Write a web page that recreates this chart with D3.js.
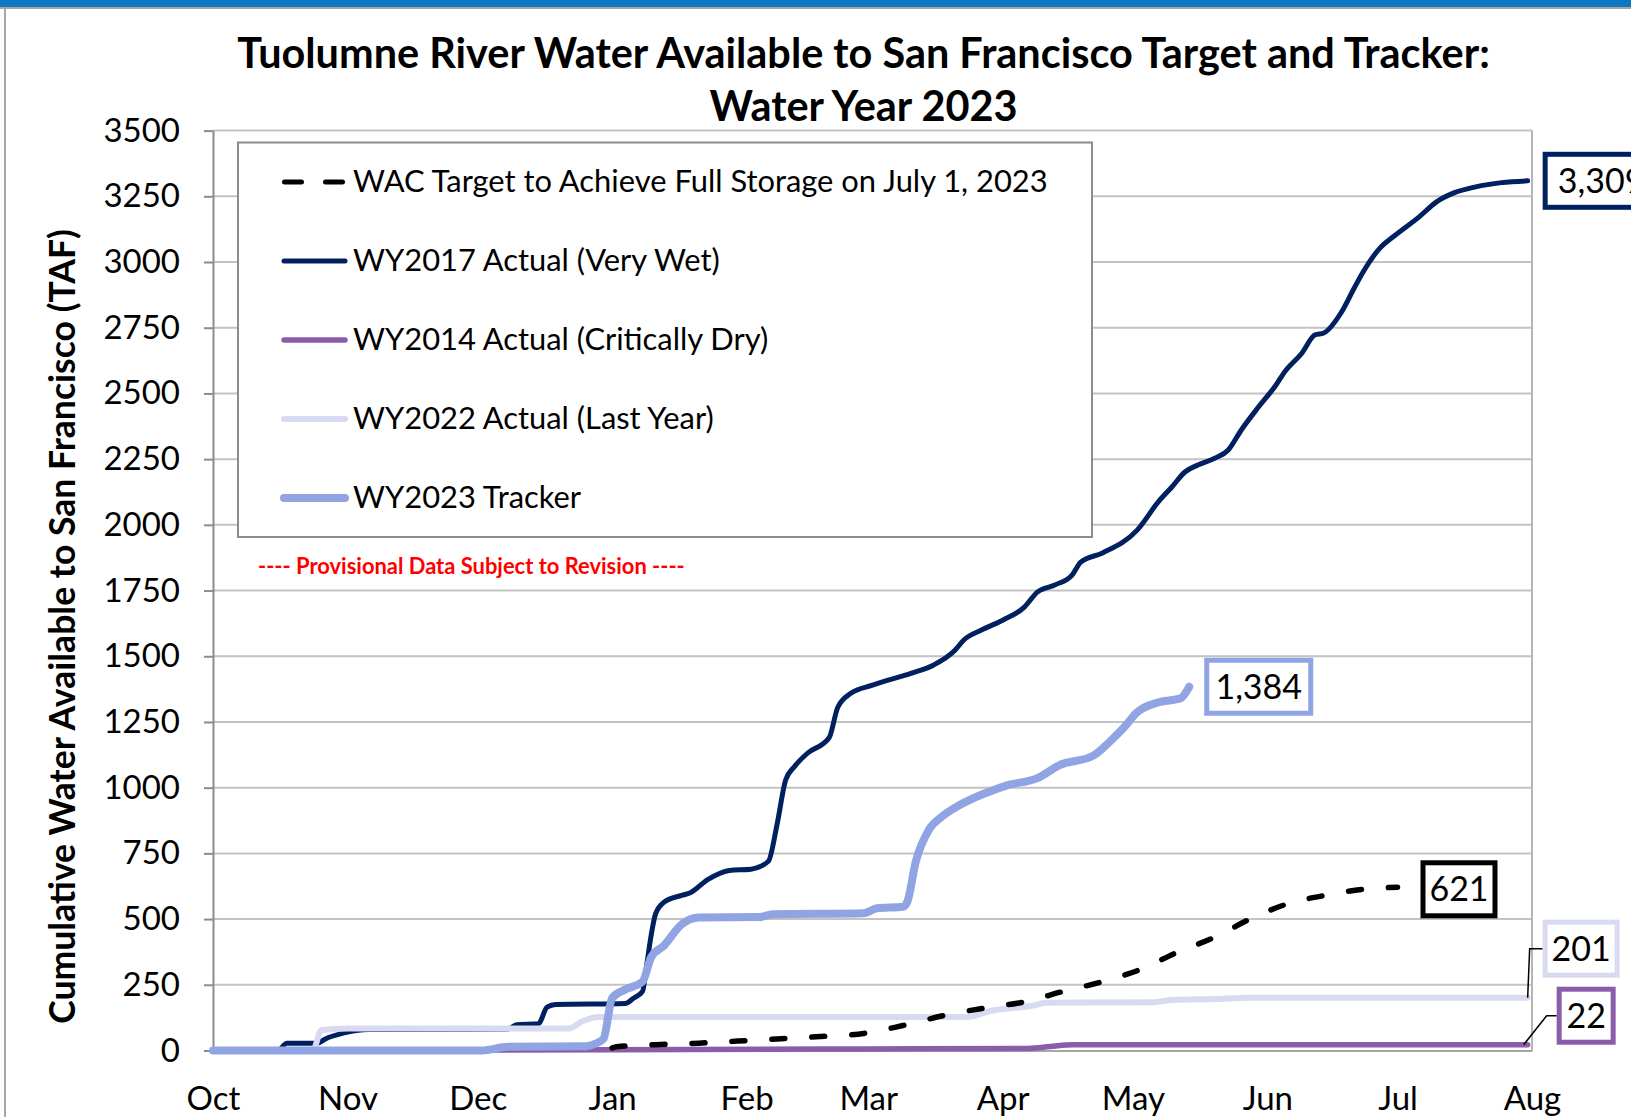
<!DOCTYPE html>
<html>
<head>
<meta charset="utf-8">
<script src="https://cdn.jsdelivr.net/npm/d3@7/dist/d3.min.js"></script>
<style>
  html, body { margin: 0; padding: 0; background: #fff; }
  svg { display: block; font-family: Lato, "Open Sans", sans-serif; }
</style>
</head>
<body>
<svg id="chart" width="1631" height="1117"></svg>
<script>
// axis labels
const monthLabels = ["Oct", "Nov", "Dec", "Jan", "Feb", "Mar", "Apr", "May", "Jun", "Jul", "Aug"];
const monthStarts = ["2022-10-01", "2022-11-01", "2022-12-01", "2023-01-01", "2023-02-01", "2023-03-01",
                     "2023-04-01", "2023-05-01", "2023-06-01", "2023-07-01", "2023-08-01"];
const yTicks = [0, 250, 500, 750, 1000, 1250, 1500, 1750, 2000, 2250, 2500, 2750, 3000, 3250, 3500];

// WAC target (dashed)
const targetDates = ["2023-01-01", "2023-01-02", "2023-01-11", "2023-01-21", "2023-01-30", "2023-02-09", "2023-02-18",
                     "2023-02-28", "2023-03-09", "2023-03-19", "2023-03-28", "2023-04-06", "2023-04-15", "2023-04-24",
                     "2023-05-03", "2023-05-11", "2023-05-20", "2023-05-28", "2023-06-06", "2023-06-15", "2023-06-24",
                     "2023-07-01"];
const targetValues = [10, 14, 22, 28, 36, 45, 53, 65, 95, 135, 162, 185, 225, 262, 310, 372, 432, 500, 560, 592, 615, 621];

// WY2017 actual (very wet)
const wy2017Dates = ["2022-10-01", "2022-10-16", "2022-10-18", "2022-10-25", "2022-10-27", "2022-10-31", "2022-11-03",
                     "2022-11-06", "2022-12-08", "2022-12-10", "2022-12-15", "2022-12-17", "2022-12-19", "2023-01-04",
                     "2023-01-06", "2023-01-08", "2023-01-09", "2023-01-10", "2023-01-11", "2023-01-13", "2023-01-17",
                     "2023-01-19", "2023-01-23", "2023-01-28", "2023-02-02", "2023-02-06", "2023-02-08", "2023-02-10",
                     "2023-02-12", "2023-02-15", "2023-02-20", "2023-02-22", "2023-02-25", "2023-03-02", "2023-03-11",
                     "2023-03-16", "2023-03-21", "2023-03-23", "2023-03-27", "2023-04-01", "2023-04-06", "2023-04-09",
                     "2023-04-13", "2023-04-17", "2023-04-19", "2023-04-24", "2023-05-02", "2023-05-07", "2023-05-10",
                     "2023-05-13", "2023-05-16", "2023-05-20", "2023-05-23", "2023-05-26", "2023-05-30", "2023-06-03",
                     "2023-06-05", "2023-06-09", "2023-06-12", "2023-06-14", "2023-06-18", "2023-06-21", "2023-06-23",
                     "2023-06-27", "2023-06-30", "2023-07-06", "2023-07-10", "2023-07-14", "2023-07-19", "2023-07-25",
                     "2023-07-31"];
const wy2017Values = [0, 0, 28, 28, 45, 66, 76, 80, 82, 98, 102, 165, 175, 179, 200, 225, 330, 440, 520, 565, 590,
                      600, 650, 685, 690, 720, 860, 1030, 1080, 1131, 1190, 1306, 1359, 1390, 1436, 1466, 1523, 1561,
                      1599, 1637, 1687, 1744, 1771, 1809, 1858, 1893, 1980, 2090, 2144, 2201, 2228, 2254, 2285, 2361,
                      2449, 2532, 2582, 2654, 2723, 2730, 2807, 2900, 2960, 3054, 3096, 3172, 3229, 3263, 3286, 3302,
                      3309];

// WY2014 actual (critically dry)
const wy2014Dates = ["2022-10-01", "2023-01-01", "2023-03-01", "2023-04-07", "2023-04-12", "2023-04-17", "2023-07-31"];
const wy2014Values = [0, 3, 6, 8, 15, 22, 22];

// WY2022 actual (last year)
const wy2022Dates = ["2022-10-01", "2022-10-24", "2022-10-26", "2022-11-01", "2022-12-22", "2022-12-25", "2022-12-29",
                     "2023-03-24", "2023-03-29", "2023-04-08", "2023-04-11", "2023-05-06", "2023-05-10", "2023-05-20",
                     "2023-05-28", "2023-07-31"];
const wy2022Values = [0, 0, 78, 84, 84, 110, 127, 127, 150, 171, 182, 184, 192, 196, 201, 201];

// WY2023 tracker
const wy2023Dates = ["2022-10-01", "2022-12-02", "2022-12-08", "2022-12-26", "2022-12-28", "2022-12-30", "2023-01-01",
                     "2023-01-04", "2023-01-08", "2023-01-10", "2023-01-13", "2023-01-17", "2023-01-21", "2023-02-04",
                     "2023-02-07", "2023-02-28", "2023-03-03", "2023-03-09", "2023-03-10", "2023-03-12", "2023-03-15",
                     "2023-03-18", "2023-03-22", "2023-03-28", "2023-04-02", "2023-04-09", "2023-04-14", "2023-04-22",
                     "2023-04-26", "2023-04-29", "2023-05-02", "2023-05-07", "2023-05-12", "2023-05-14"];
const wy2023Values = [0, 0, 14, 16, 25, 45, 200, 232, 262, 355, 400, 480, 506, 508, 518, 522, 541, 547, 565, 720,
                      840, 890, 933, 979, 1009, 1036, 1085, 1123, 1180, 1230, 1287, 1325, 1340, 1384];

const legendNames = ["WAC Target to Achieve Full Storage on July 1, 2023", "WY2017 Actual (Very Wet)",
                     "WY2014 Actual (Critically Dry)", "WY2022 Actual (Last Year)", "WY2023 Tracker"];

let parse = d3.timeParse("%Y-%m-%d");
let svg = d3.select("#chart");
let width = 1631, height = 1117;

// frame
svg.append("rect").attr("x", 0).attr("y", 0).attr("width", width).attr("height", 7).attr("fill", "#0b79c1");
svg.append("line").attr("x1", 0).attr("x2", width).attr("y1", 8).attr("y2", 8)
    .attr("stroke", "#a6a6a6").attr("stroke-width", 2);
svg.append("line").attr("x1", 5).attr("x2", 5).attr("y1", 8).attr("y2", height)
    .attr("stroke", "#a6a6a6").attr("stroke-width", 2);

// plot bounds
let plot = {left: 213, right: 1532, top: 130.6, bottom: 1050.5};

let xScale = d3.scaleTime()
    .domain([parse("2022-10-01"), parse("2023-08-01")])
    .range([plot.left, plot.right]);
let yScale = d3.scaleLinear()
    .domain([0, 3500])
    .range([plot.bottom, plot.top]);

//fit a text to a measured width
function fitText(sel, w) {
    let len = sel.node().getComputedTextLength();
    let fs = parseFloat(sel.attr("font-size"));
    sel.attr("font-size", fs * w / len);
    return fs * w / len;
}

//gridlines
svg.append("g").selectAll("line")
    .data(yTicks.filter(d => d > 0))
    .join("line")
    .attr("x1", plot.left).attr("x2", plot.right)
    .attr("y1", d => yScale(d)).attr("y2", d => yScale(d))
    .attr("stroke", "#c3c3c3").attr("stroke-width", 2);
svg.append("line")
    .attr("x1", plot.right).attr("x2", plot.right)
    .attr("y1", plot.top).attr("y2", plot.bottom)
    .attr("stroke", "#b5b5b5").attr("stroke-width", 2);

//y axis
let yAxis = svg.append("g")
    .attr("transform", "translate(" + plot.left + ",0)")
    .call(d3.axisLeft(yScale).tickValues(yTicks).tickFormat(d3.format("d"))
        .tickSize(9).tickPadding(24).tickSizeOuter(0));
yAxis.select(".domain").attr("stroke", "#8c8c8c").attr("stroke-width", 2);
yAxis.selectAll(".tick line").attr("stroke", "#8c8c8c").attr("stroke-width", 2);
yAxis.selectAll(".tick text")
    .attr("font-size", 33).attr("font-family", "Lato").attr("fill", "#000");

//x axis
let xAxis = svg.append("g")
    .attr("transform", "translate(0," + plot.bottom + ")")
    .call(d3.axisBottom(xScale)
        .tickValues(monthStarts.map(parse))
        .tickFormat((d, i) => monthLabels[i])
        .tickSize(0).tickPadding(36).tickSizeOuter(0));
xAxis.select(".domain").attr("stroke", "#a6a6a6").attr("stroke-width", 2);
xAxis.selectAll(".tick text")
    .attr("font-size", 33).attr("font-family", "Lato").attr("fill", "#000");

//legend box
svg.append("rect")
    .attr("x", 238).attr("y", 142.5).attr("width", 854).attr("height", 394.5)
    .attr("fill", "#fff").attr("stroke", "#8c8c8c").attr("stroke-width", 2);

//series
let series = [
    {dates: wy2014Dates, values: wy2014Values, color: "#8b5ca9", w: 5.5, legend: 2},
    {dates: wy2017Dates, values: wy2017Values, color: "#002060", w: 5, legend: 1},
    {dates: wy2022Dates, values: wy2022Values, color: "#d8daf1", w: 6, legend: 3},
    {dates: wy2023Dates, values: wy2023Values, color: "#90a4e4", w: 8, legend: 4},
    {dates: targetDates, values: targetValues, color: "#000", w: 5.5, dash: "13 27", legend: 0}
];

let line = d3.line()
    .x(d => xScale(d.date))
    .y(d => yScale(d.value))
    .curve(d3.curveMonotoneX);

series.forEach(s => {
    let items = s.dates.map((d, i) => ({date: parse(d), value: s.values[i]}));
    s.items = items;
    svg.append("path")
        .datum(items)
        .attr("fill", "none")
        .attr("stroke", s.color)
        .attr("stroke-width", s.w)
        .attr("stroke-linejoin", "round")
        .attr("stroke-linecap", "round")
        .attr("stroke-dasharray", s.dash || null)
        .attr("d", line);
});

//legend entries
let legendY = [182, 261, 340, 419, 498];
let legendFont = 30;
series.slice().sort((a, b) => a.legend - b.legend).forEach((s, i) => {
    let ly = legendY[i];
    if (s.dash) {
        svg.append("line")
            .attr("x1", 284.5).attr("x2", 342.5).attr("y1", ly).attr("y2", ly)
            .attr("stroke", s.color).attr("stroke-width", 5)
            .attr("stroke-linecap", "round").attr("stroke-dasharray", "17 24");
    } else {
        svg.append("line")
            .attr("x1", 284).attr("x2", 345).attr("y1", ly).attr("y2", ly)
            .attr("stroke", s.color).attr("stroke-width", s.w).attr("stroke-linecap", "round");
    }
    let t = svg.append("text")
        .attr("x", 353).attr("y", ly + 10)
        .attr("font-size", legendFont)
        .attr("fill", "#000")
        .text(legendNames[i]);
    if (i === 0) legendFont = fitText(t, 695);
});

//provisional note
let note = svg.append("text")
    .attr("x", 258).attr("y", 574)
    .attr("font-size", 20).attr("font-weight", "bold").attr("fill", "#ff0000")
    .text("---- Provisional  Data  Subject to Revision ----");
fitText(note, 427);

//titles
let t1 = svg.append("text")
    .attr("x", 863.5).attr("y", 68)
    .attr("text-anchor", "middle").attr("font-size", 36).attr("font-weight", "bold")
    .text("Tuolumne  River Water Available to San Francisco Target and Tracker:");
let titleSize = fitText(t1, 1253);
svg.append("text")
    .attr("x", 863.5).attr("y", 121)
    .attr("text-anchor", "middle").attr("font-size", titleSize).attr("font-weight", "bold")
    .text("Water Year 2023");

let yt = svg.append("text")
    .attr("transform", "translate(75,626.5) rotate(-90)")
    .attr("text-anchor", "middle").attr("font-size", 30).attr("font-weight", "bold")
    .text("Cumulative Water Available to San Francisco (TAF)");
fitText(yt, 795);

//end-of-series value labels
let fmt = d3.format(",");
let labelSpec = [
    {s: series[1], dx: 15, dy: 0, w: 112, color: "#002060"},
    {s: series[3], dx: 15, dy: 0, w: 104, color: "#90a4e4"},
    {s: series[4], dx: 23, dy: 2, w: 72, color: "#000"},
    {s: series[2], dx: 15, dy: -49, w: 72, color: "#d8daf1", leader: [0, 2]},
    {s: series[0], dx: 29, dy: -29, w: 54, color: "#8b5ca9", leader: [-4, 19]}
];
labelSpec.forEach(l => {
    let last = l.s.items[l.s.items.length - 1];
    let px = xScale(last.date), py = yScale(last.value);
    let bx = px + l.dx, by = py + l.dy;
    if (l.leader) {
        svg.append("polyline")
            .attr("points", [[px + l.leader[0], py], [px + l.leader[1], by], [bx, by]].join(" "))
            .attr("fill", "none").attr("stroke", "#000").attr("stroke-width", 1.5);
    }
    svg.append("rect")
        .attr("x", bx + 2.5).attr("y", by - 26.5)
        .attr("width", l.w).attr("height", 53)
        .attr("fill", "#fff").attr("stroke", l.color).attr("stroke-width", 5);
    svg.append("text")
        .attr("x", bx + 2.5 + l.w / 2).attr("y", by + 12)
        .attr("text-anchor", "middle").attr("font-size", 34).attr("fill", "#000")
        .text(fmt(last.value));
});
</script>
</body>
</html>
